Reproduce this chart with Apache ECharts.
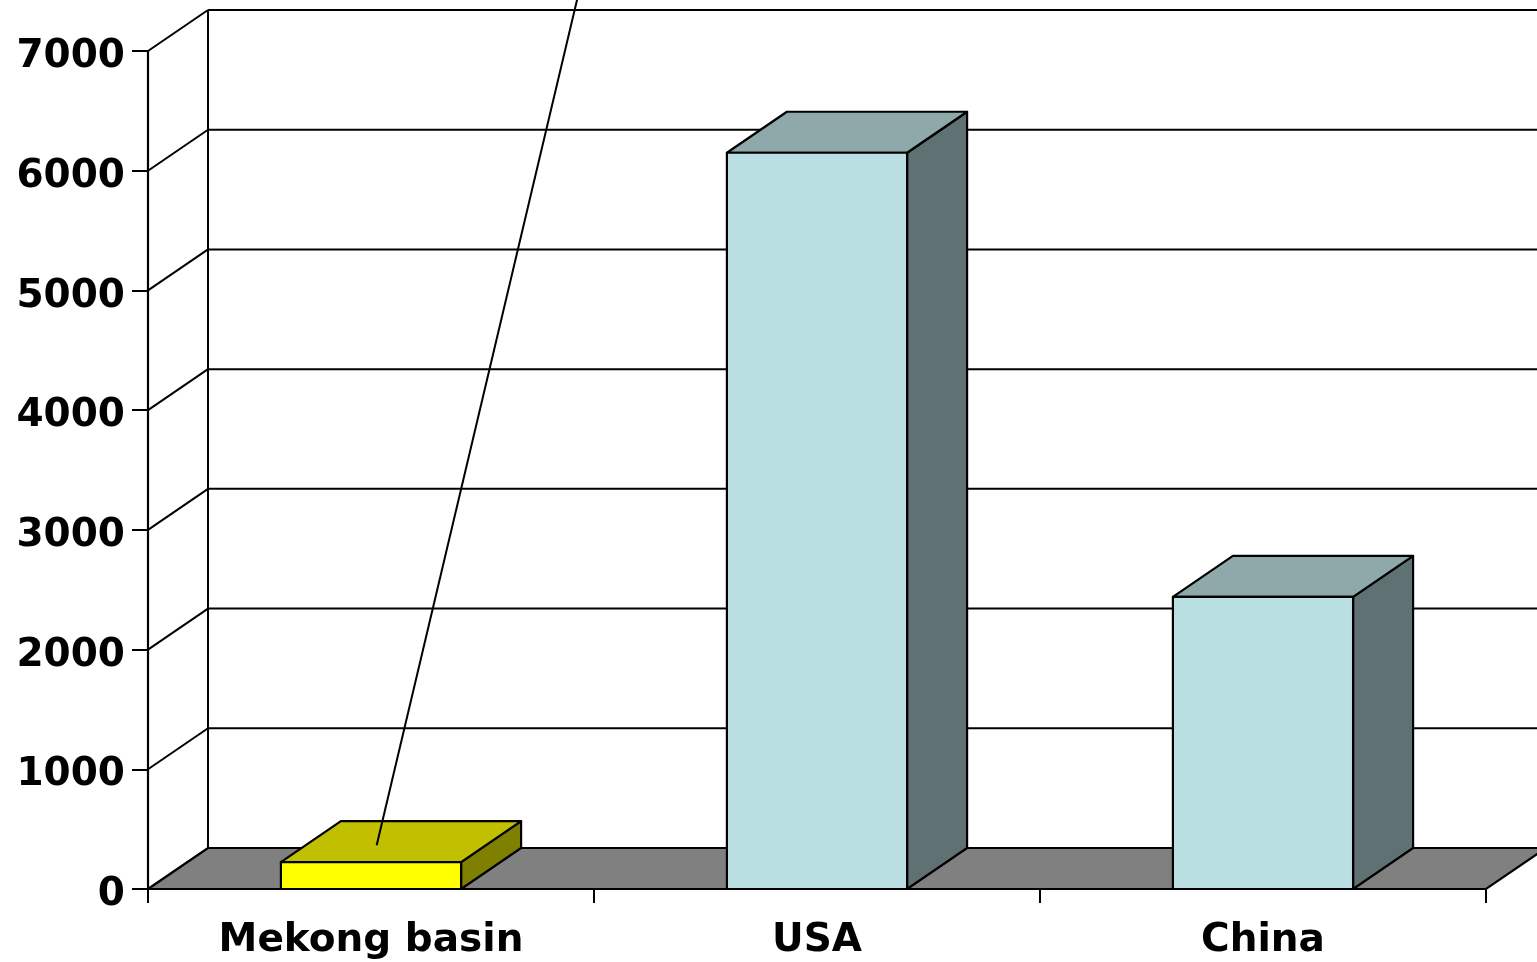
<!DOCTYPE html>
<html>
<head>
<meta charset="utf-8">
<title>Mekong basin, USA, China</title>
<script src="https://cdn.jsdelivr.net/npm/echarts@6/dist/echarts.min.js"></script>
<style>
  html, body { margin: 0; padding: 0; background: #ffffff; }
  #chart { width: 1537px; height: 962px; }
</style>
</head>
<body>
<div id="chart"></div>
<script>
// Chart data
const categories = ['Mekong basin', 'USA', 'China'];
const values = [225, 6150, 2440];
const yTicks = [0, 1000, 2000, 3000, 4000, 5000, 6000, 7000];

// Face colours of each bar: front, top, side
const barPalettes = [
  { front: '#FFFF00', top: '#C0C000', side: '#808000' },
  { front: '#B9DFE2', top: '#8FA9AA', side: '#5F7172' },
  { front: '#B9DFE2', top: '#8FA9AA', side: '#5F7172' }
];

// Perspective offset of the back plane (pixels)
const DX = 60, DY = -41;
const BAR_RATIO = 0.404;
const LABEL_FONT = '"DejaVu Sans", Verdana, sans-serif';

const chart = echarts.init(document.getElementById('chart'), null, { renderer: 'canvas' });

// Floor, side wall and back-wall grid
function renderFrame(params, api) {
  const cs = params.coordSys;
  const L = cs.x, R = cs.x + cs.width;
  const children = [];
  const y0 = api.coord([0, 0])[1];
  const yMax = api.coord([0, yTicks[yTicks.length - 1]])[1];
  const line = { stroke: '#000', lineWidth: 2 };

  yTicks.forEach(v => {
    const y = api.coord([0, v])[1];
    children.push({ type: 'line', shape: { x1: L + DX, y1: y + DY, x2: R + DX + 20, y2: y + DY }, style: line });
    children.push({ type: 'line', shape: { x1: L, y1: y, x2: L + DX, y2: y + DY }, style: line });
  });
  children.push({ type: 'line', shape: { x1: L + DX, y1: yMax + DY, x2: L + DX, y2: y0 + DY }, style: line });
  children.push({
    type: 'polygon',
    shape: { points: [[L, y0], [R, y0], [R + DX, y0 + DY], [L + DX, y0 + DY]] },
    style: { fill: '#808080', stroke: '#000', lineWidth: 2.2 }
  });
  return { type: 'group', children };
}

// Three-faced bars
function renderBar(params, api) {
  const idx = api.value(0);
  const val = api.value(1);
  const top = api.coord([idx, val]);
  const base = api.coord([idx, 0]);
  const w = api.size([1, 0])[0] * BAR_RATIO;
  const xl = top[0] - w / 2, xr = top[0] + w / 2;
  const yt = top[1], yb = base[1];
  const pal = barPalettes[idx];
  const edge = { stroke: '#000', lineWidth: 2.2, lineJoin: 'round' };
  const children = [
    { type: 'polygon', shape: { points: [[xr, yb], [xr + DX, yb + DY], [xr + DX, yt + DY], [xr, yt]] },
      style: Object.assign({ fill: pal.side }, edge) },
    { type: 'polygon', shape: { points: [[xl, yt], [xr, yt], [xr + DX, yt + DY], [xl + DX, yt + DY]] },
      style: Object.assign({ fill: pal.top }, edge) },
    { type: 'rect', shape: { x: xl, y: yt, width: w, height: yb - yt },
      style: Object.assign({ fill: pal.front }, edge) }
  ];
  // Pointer line rising from the Mekong basin bar
  if (idx === 0) {
    const t = 0.41, u = 0.395;
    const sx = xl + u * w + t * DX, sy = yt + t * DY;
    const slope = 0.237;
    const ey = -20;
    const ex = sx + (sy - ey) * slope;
    children.push({ type: 'line', shape: { x1: sx, y1: sy, x2: ex, y2: ey },
      style: { stroke: '#000', lineWidth: 2 } });
  }
  return { type: 'group', children };
}

chart.setOption({
  animation: false,
  backgroundColor: '#ffffff',
  grid: { left: 148, right: 51, top: 51, bottom: 73, containLabel: false },
  xAxis: {
    type: 'category',
    data: categories,
    axisLine: { show: true, lineStyle: { color: '#000', width: 2.2 } },
    axisTick: { show: true, length: 14, lineStyle: { color: '#000', width: 2 } },
    axisLabel: { margin: 32, color: '#000', fontFamily: LABEL_FONT, fontWeight: 'bold', fontSize: 39 },
    splitLine: { show: false }
  },
  yAxis: {
    type: 'value',
    min: 0, max: 7000, interval: 1000,
    axisLine: { show: true, lineStyle: { color: '#000', width: 2.2 } },
    axisTick: { show: true, length: 16, lineStyle: { color: '#000', width: 2 } },
    axisLabel: {
      margin: 23, color: '#000', fontFamily: LABEL_FONT, fontWeight: 'bold', fontSize: 39,
      formatter: v => '{n|' + v + '}',
      rich: {
        n: { color: '#000', fontFamily: LABEL_FONT, fontWeight: 'bold', fontSize: 39, padding: [12, 0, 0, 0] }
      }
    },
    splitLine: { show: false }
  },
  series: [
    { type: 'custom', renderItem: renderFrame, data: [[0, 0]], z: 1, silent: true },
    { type: 'custom', renderItem: renderBar, data: values.map((v, i) => [i, v]), z: 3,
      encode: { x: 0, y: 1 } }
  ]
});
</script>
</body>
</html>
